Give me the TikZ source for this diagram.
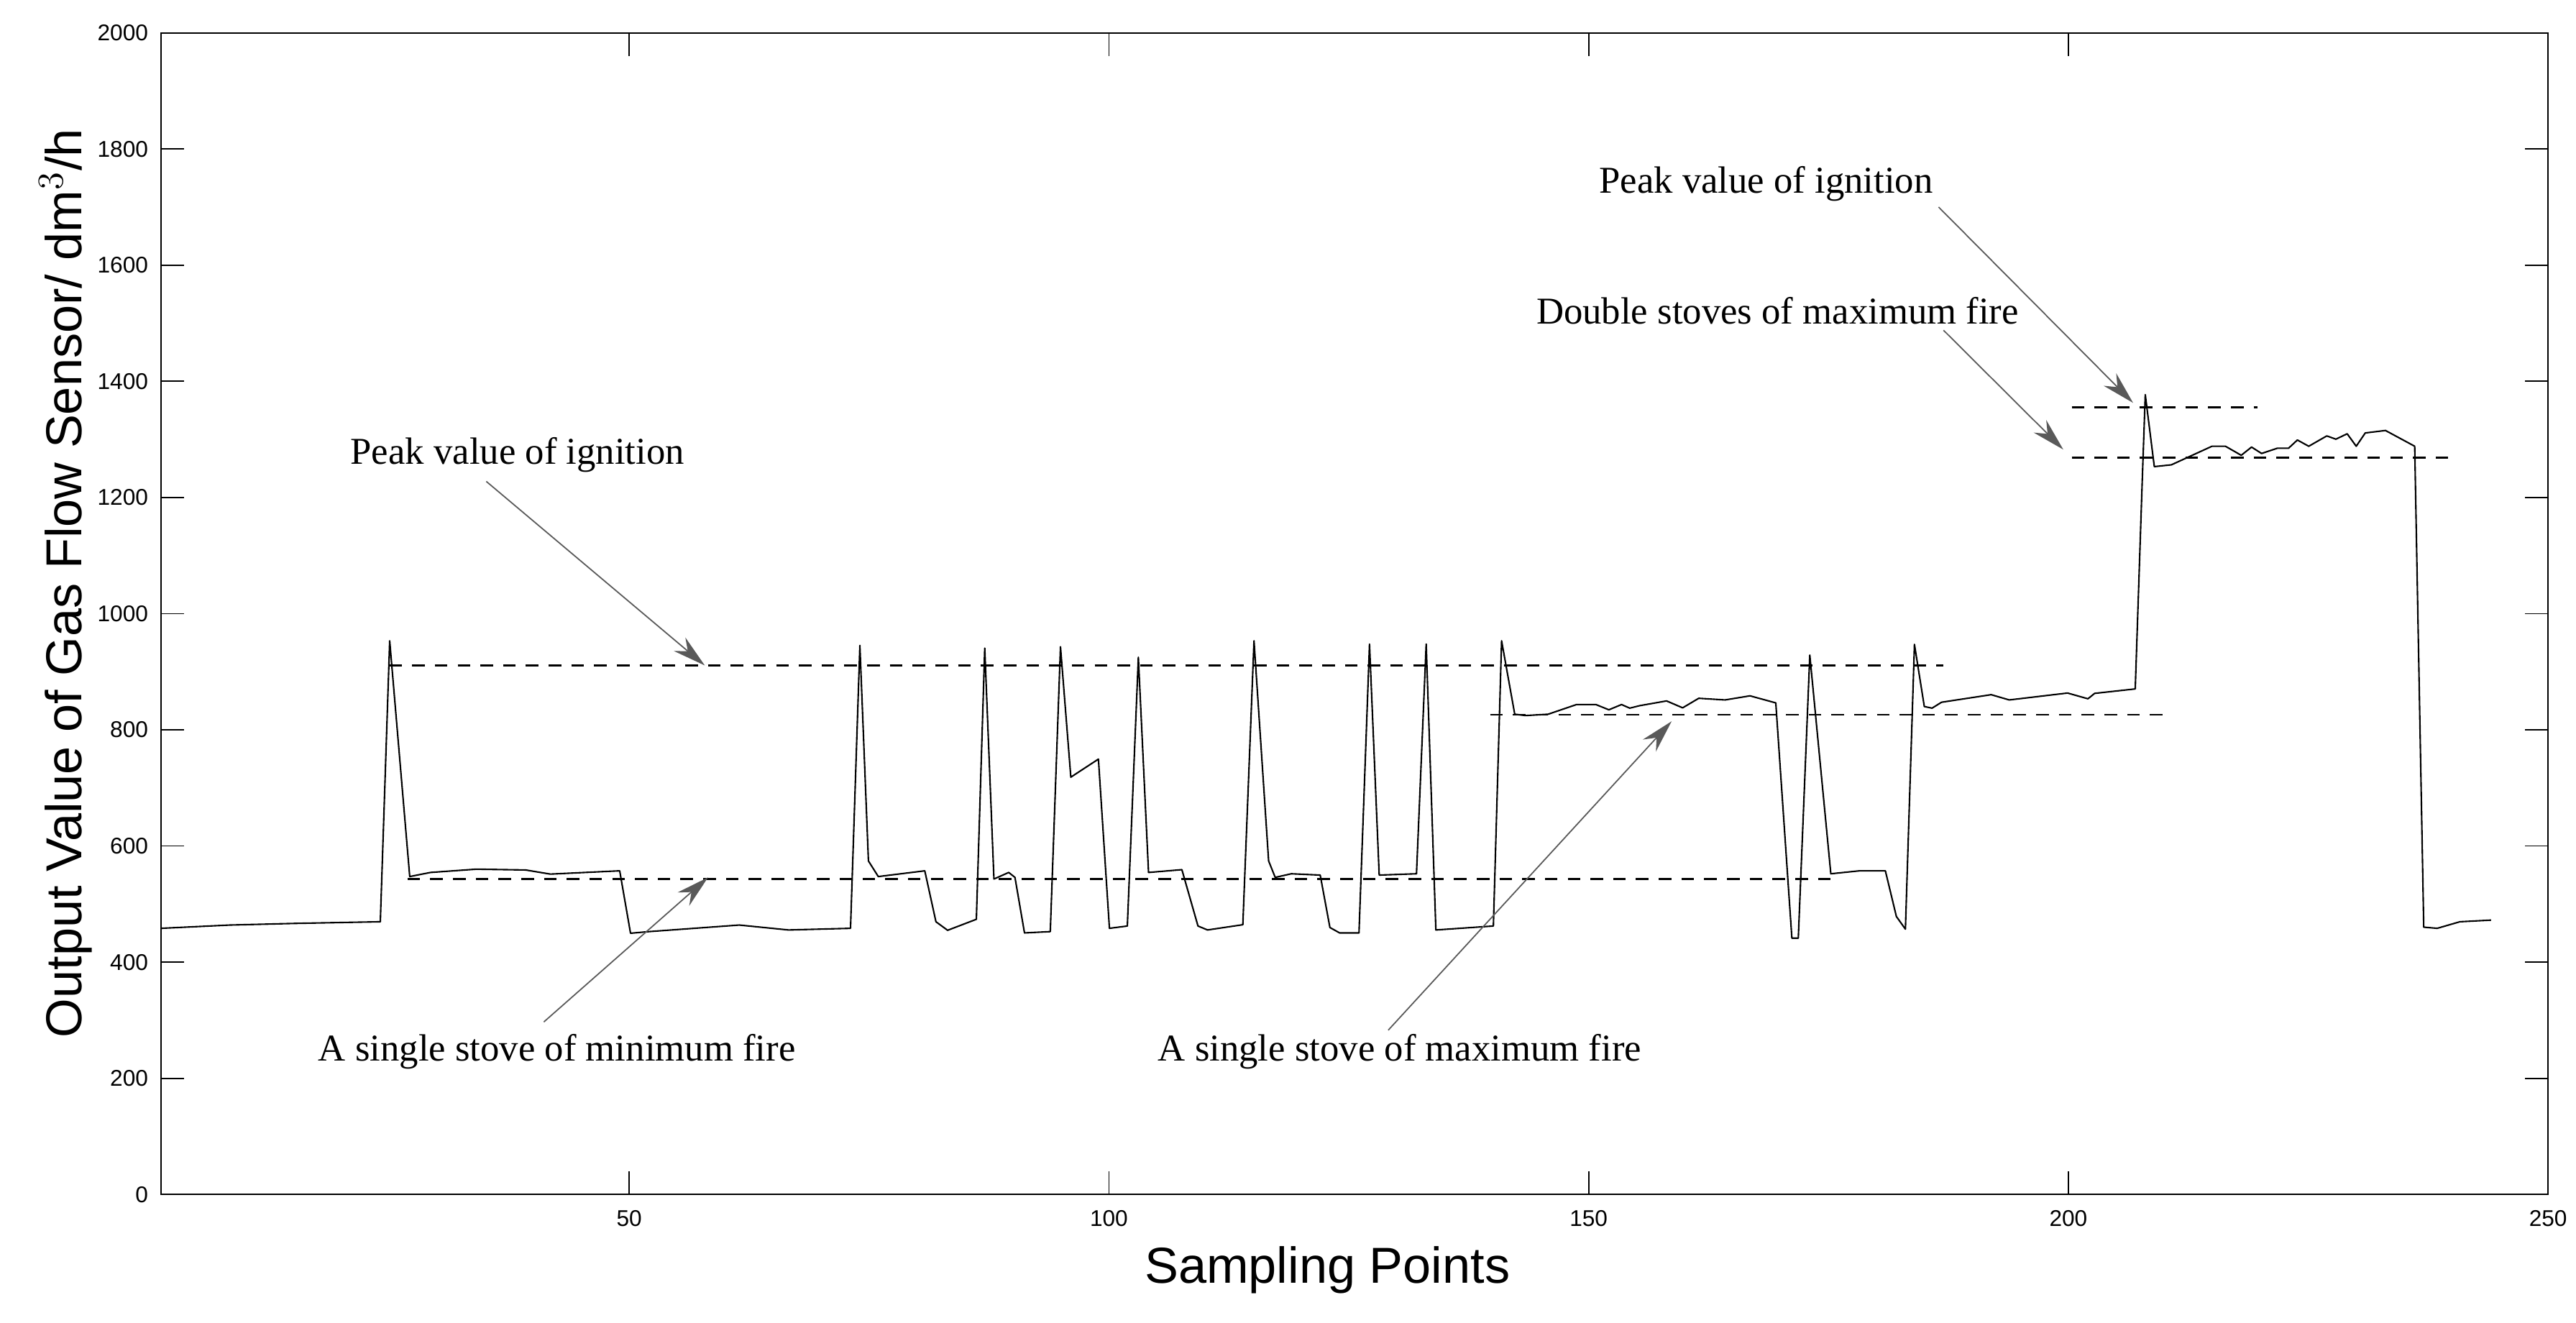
\documentclass[tikz,border=0pt]{standalone}
\usepackage{fontspec}
\setmainfont{Liberation Serif}
\setsansfont{Liberation Sans}
\usetikzlibrary{arrows.meta}
\begin{document}
\begin{tikzpicture}[x=0.02285cm,y=-0.02285cm,
  curve/.style={line width=0.6pt,line join=round},
  refline/.style={dashed,dash pattern=on 5pt off 4pt,line width=0.7pt},
  annot/.style={font=\fontsize{15}{17}\selectfont,inner sep=1pt},
  ptr/.style={-{Stealth[length=13pt,width=7pt]},line width=0.5pt,gray!70!black},
  ticklab/.style={font=\sffamily\fontsize{9}{10}\selectfont,inner sep=1pt},
  axtitle/.style={font=\sffamily\fontsize{20}{22}\selectfont}]
\useasboundingbox (0,0) rectangle (1568,805);
% axes box
\draw[line width=0.6pt] (98,20) rectangle (1551,727);
% y ticks
\foreach \v in {0,200,...,2000}{
  \pgfmathsetmacro{\yy}{727-\v*0.3535}
  \draw[line width=0.5pt] (98,\yy) -- (112,\yy);
  \draw[line width=0.5pt] (1551,\yy) -- (1537,\yy);
  \node[ticklab,anchor=east] (yt\v) at (92,\yy) {\v};
}
% x ticks
\foreach \v in {50,100,150,200,250}{
  \pgfmathsetmacro{\xx}{91+\v*5.84}
  \draw[line width=0.5pt] (\xx,727) -- (\xx,713);
  \draw[line width=0.5pt] (\xx,20) -- (\xx,34);
  \node[ticklab,anchor=north] (xt\v) at (\xx,735) {\v};
}
\node[axtitle] (xtitle) at (808,773) {Sampling Points};
\node[axtitle,rotate=90] (ytitle) at (40,355) {Output Value of Gas Flow Sensor/ dm$^3$/h};
% data curve
\draw[curve] plot coordinates {
(98,565) (140,563) (180,562) (231.5,561) (237.2,390) (249.4,533.5) (262,531) (290,529) (320,529.5) (335,532) (377.2,530)
(383.8,568) (395,567) (450,563) (480,566) (517.7,565) (523.4,392.8) (528.6,524) (534.6,533.5) (562.9,530)
(569.7,561) (576.8,566.2) (594.3,559.5) (599.4,394.5) (605,535) (614,531) (617.8,534) (623.6,567.8) (639.3,567)
(645.5,393.6) (651.8,473) (668.6,462) (675.3,565) (686.2,563.6) (692.9,400) (699.1,531) (719.4,529.3)
(729.2,563.6) (735,566) (756.5,562.8) (763.3,390) (772.2,524) (776.2,534) (786,531.8) (803.6,532.6)
(809.5,564.5) (815.4,567.8) (827.2,567.8) (833.6,392) (839.5,532.6) (862.2,531.8) (868.1,392) (874,566)
(909,563.6) (914,390) (922,434.7) (928.6,435.5) (942.3,434.7) (959.6,428.8) (971.4,428.8) (979.3,432)
(987,428.8) (992,431) (998,429.5) (1014.4,426.6) (1024.2,430.8) (1034,425) (1050,426) (1065.2,423.5) (1080.9,427.8)
(1090.7,571) (1094.6,571) (1101.6,398.7) (1114.4,531.8) (1131.9,530) (1147.6,530) (1154.3,557.8) (1159.8,565.5)
(1165.3,392.2) (1171.3,430) (1176,431) (1181.8,427.4) (1212,422.8) (1223,426) (1258.5,421.8) (1270.9,425.3)
(1275,422) (1299.7,419.3) (1303.9,294.2) (1305.8,240.2) (1311.3,284) (1321.7,282.9) (1346.4,271.6) (1354.6,271.6)
(1364.2,277.1) (1370.5,272.1) (1376.6,276) (1386.2,272.8) (1393,272.8) (1398.4,267.8) (1405.3,271.6) (1416.3,265.3)
(1421.8,267.3) (1428.7,264) (1434.2,271.6) (1439.7,263.5) (1452,262) (1469.8,271.6) (1475.3,564.3) (1483.5,565)
(1497.3,561) (1516.3,560)};
% reference lines
\draw[refline] (237,405) -- (1183,405);
\draw[refline] (248,535) -- (1120,535);
\draw[refline] (907,435) -- (1320,435);
\draw[refline] (1261,248) -- (1374,248);
\draw[refline] (1261,278.5) -- (1495,278.5);
% arrow targets
\coordinate (t1) at (429,405);
\coordinate (t2) at (431,534);
\coordinate (t3) at (1017.5,439);
\coordinate (t4) at (1298.4,245.2);
\coordinate (t5) at (1255.9,273.6);
% annotations
\node[annot] (a1) at (315,277) {Peak value of ignition};
\node[annot] (a2) at (339,640) {A single stove of minimum fire};
\node[annot] (a3) at (852,640) {A single stove of maximum fire};
\node[annot] (a4) at (1075,112) {Peak value of ignition};
\node[annot] (a5) at (1082,189) {Double stoves of maximum fire};
\draw[ptr] (296,293) -- (t1);
\draw[ptr] (331,622) -- (t2);
\draw[ptr] (845,627) -- (t3);
\draw[ptr] (1180,126) -- (t4);
\draw[ptr] (1183,201) -- (t5);
\end{tikzpicture}
\end{document}
